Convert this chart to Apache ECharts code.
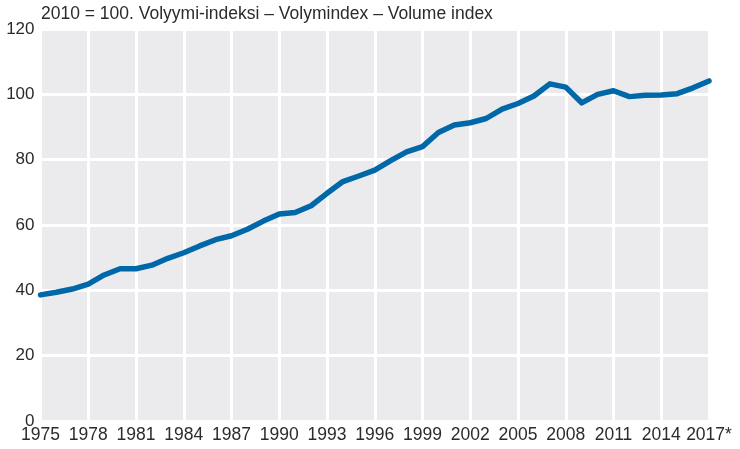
<!DOCTYPE html>
<html><head><meta charset="utf-8">
<script src="https://cdn.jsdelivr.net/npm/echarts@6/dist/echarts.min.js"></script>
<style>html,body{margin:0;padding:0;background:#fff}#c{width:740px;height:449px}</style>
</head><body><div id="c"></div>
<script>
const titleText = '2010 = 100. Volyymi-indeksi – Volymindex – Volume index';
const years = ['1975','1976','1977','1978','1979','1980','1981','1982','1983','1984','1985','1986','1987','1988','1989','1990','1991','1992','1993','1994','1995','1996','1997','1998','1999','2000','2001','2002','2003','2004','2005','2006','2007','2008','2009','2010','2011','2012','2013','2014','2015','2016','2017*'];
const volumeIndex = [38.6,39.4,40.4,41.9,44.7,46.6,46.6,47.7,49.8,51.5,53.6,55.5,56.7,58.7,61.2,63.4,63.8,65.9,69.7,73.3,75.0,76.8,79.7,82.4,84.0,88.3,90.6,91.3,92.6,95.5,97.2,99.5,103.2,102.2,97.4,100.0,101.1,99.3,99.7,99.8,100.2,102.0,104.1];
const yTicks = {min:0, max:120, interval:20};

const chart = echarts.init(document.getElementById('c'), null, {renderer:'canvas'});
const font = 'Liberation Sans, Arial, Helvetica, sans-serif';
chart.setOption({
  animation:false,
  title:{text:titleText, left:41, top:5, padding:0,
    textStyle:{fontFamily:font, fontSize:17.5, fontWeight:'normal', color:'#2b2b2b'}},
  grid:{left:40.5, right:31, top:29, bottom:28, show:true, backgroundColor:'#ebebed', borderWidth:0, containLabel:false},
  xAxis:{type:'category', data:years, boundaryGap:false,
    axisLine:{show:false}, axisTick:{show:false},
    axisLabel:{interval:2, margin:5, fontFamily:font, fontSize:17.5, color:'#2b2b2b'},
    splitLine:{show:true, interval:2, lineStyle:{color:'#ffffff', width:3}}},
  yAxis:{type:'value', min:yTicks.min, max:yTicks.max, interval:yTicks.interval,
    axisLine:{show:false}, axisTick:{show:false},
    axisLabel:{margin:6, fontFamily:font, fontSize:17, color:'#2b2b2b'},
    splitLine:{show:true, lineStyle:{color:'#ffffff', width:3}}},
  series:[{type:'line', data:volumeIndex, symbol:'none', smooth:false,
    lineStyle:{color:'#0068a8', width:5.5, cap:'round', join:'round'}}]
});
</script></body></html>
